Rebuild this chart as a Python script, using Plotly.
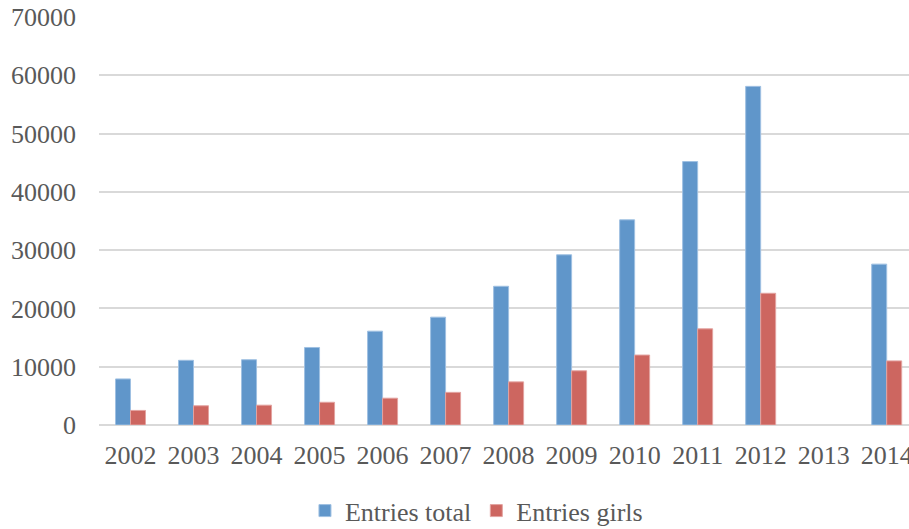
import plotly.graph_objects as go

# Entries per year (2013 has no data)
years = ["2002", "2003", "2004", "2005", "2006", "2007", "2008",
         "2009", "2010", "2011", "2012", "2013", "2014"]
entries_total = [7900, 11100, 11200, 13300, 16100, 18500, 23800,
                 29200, 35200, 45200, 58100, None, 27600]
entries_girls = [2500, 3300, 3400, 3900, 4600, 5600, 7400,
                 9300, 12000, 16500, 22600, None, 11000]

blue = "#6096CA"
red = "#CD6660"
font = "Liberation Serif"
text_color = "#595959"

fig = go.Figure()
fig.add_trace(go.Bar(
    x=years, y=entries_total, name="Entries total",
    marker=dict(color=blue, line=dict(color="#9FC0E2", width=1)),
))
fig.add_trace(go.Bar(
    x=years, y=entries_girls, name="Entries girls",
    marker=dict(color=red, line=dict(color="#E3A3A0", width=1)),
))

fig.update_layout(
    width=909, height=529,
    margin=dict(l=99, r=0, t=17, b=104, autoexpand=False),
    paper_bgcolor="white", plot_bgcolor="white",
    barmode="group", bargap=0.524, bargroupgap=0,
    font=dict(family=font, size=26, color=text_color),
    showlegend=True,
    legend=dict(
        orientation="h", x=0.466, xanchor="center",
        y=-0.21, yanchor="middle",
        font=dict(family=font, size=26, color=text_color),
        traceorder="normal", itemwidth=30,
    ),
)
fig.update_xaxes(
    type="category", range=[-0.5, 12.354],
    showgrid=False, showline=False, ticks="",
    ticklabelstandoff=12,
    tickfont=dict(family=font, size=26, color=text_color),
)
fig.update_yaxes(
    range=[0, 70000], dtick=10000, tick0=0,
    showgrid=True, gridcolor="#D9D9D9", gridwidth=1.5,
    zeroline=True, zerolinecolor="#D9D9D9", zerolinewidth=1.5,
    showline=False, ticks="", ticklabelstandoff=22,
    tickformat="d",
    tickfont=dict(family=font, size=26, color=text_color),
)

fig.write_html("out.html")
